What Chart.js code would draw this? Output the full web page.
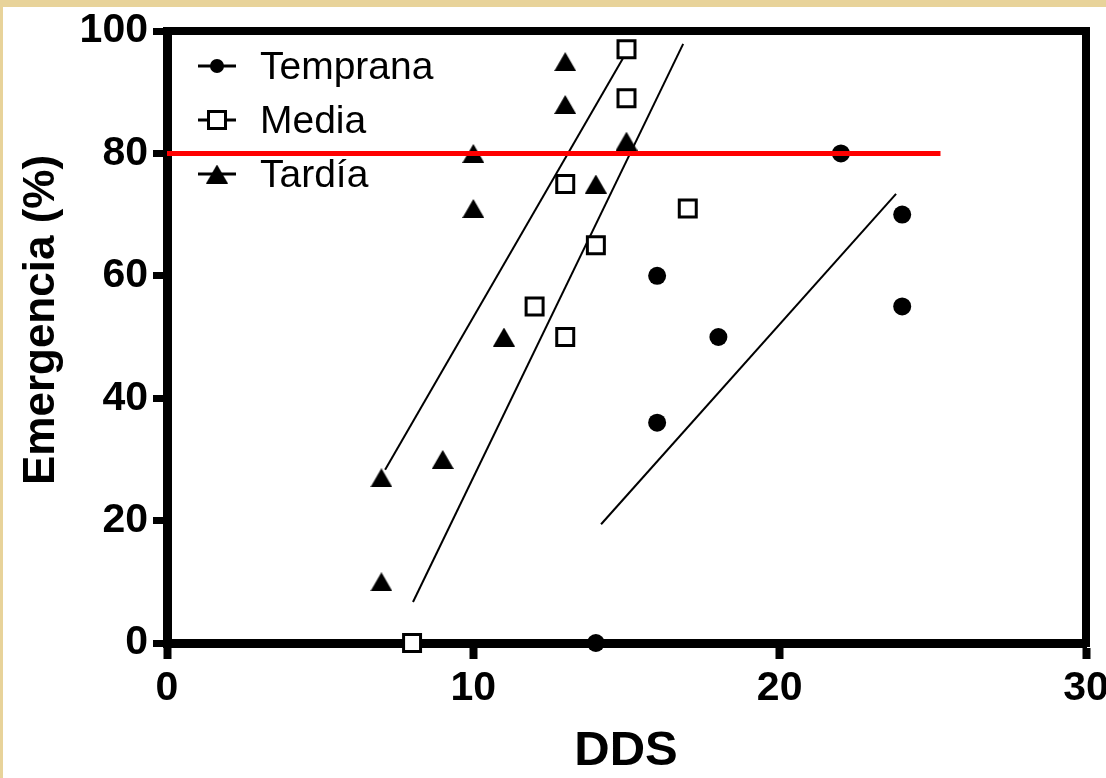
<!DOCTYPE html>
<html>
<head>
<meta charset="utf-8">
<title>Emergencia vs DDS</title>
<script src="https://cdn.jsdelivr.net/npm/chart.js@4.4.1/dist/chart.umd.min.js"></script>
<style>
  html, body { margin: 0; padding: 0; overflow: hidden; background: #fff; }
  canvas { display: block; }
</style>
</head>
<body>
<canvas id="grafico" width="1106" height="778"></canvas>
<script>
// observaciones por época de siembra
const ddsTemprana = [14, 16, 16, 18, 22, 24, 24];
const emTemprana  = [0, 60, 36, 50, 80, 70, 55];

const ddsMedia = [8, 12, 13, 13, 14, 15, 15, 17];
const emMedia  = [0, 55, 50, 75, 65, 97, 89, 71];

const ddsTardia = [7, 7, 9, 10, 10, 11, 13, 13, 14, 15];
const emTardia  = [27, 10, 30, 80, 71, 50, 95, 88, 75, 82];

// rectas de regresión (extremos)
const rectaTempranaX = [14.17, 23.8];
const rectaTempranaY = [19.4, 73.4];
const rectaMediaX = [8.03, 16.85];
const rectaMediaY = [6.7, 97.9];
const rectaTardiaX = [7.12, 14.89];
const rectaTardiaY = [28.3, 95.6];

// umbral del 80 %
const umbralX = [0, 25.25];
const umbralY = [80, 80];

const xTicks = [0, 10, 20, 30];
const yTicks = [0, 20, 40, 60, 80, 100];

const etiquetas = ['Temprana', 'Media', 'Tardía'];

function puntos(xs, ys) {
    return xs.map((x, i) => ({ x: x, y: ys[i] }));
}

const FUENTE = "'Liberation Sans', Arial, sans-serif";

// triángulo centrado en su caja (el de Chart.js queda desplazado hacia arriba)
function hacerTriangulo(w, h) {
    const cv = document.createElement('canvas');
    cv.width = w;
    cv.height = h;
    const c = cv.getContext('2d');
    c.fillStyle = '#000';
    c.beginPath();
    c.moveTo(w / 2, 0);
    c.lineTo(w, h);
    c.lineTo(0, h);
    c.closePath();
    c.fill();
    return cv;
}
const triangulo = hacerTriangulo(22, 19);

const fondo = {
    id: 'fondo',
    beforeDraw(chart) {
        const c = chart.ctx;
        c.save();
        c.fillStyle = '#e8d39a';
        c.fillRect(0, 0, chart.width, chart.height);
        c.fillStyle = '#ffffff';
        c.fillRect(3, 7, chart.width - 3, chart.height - 7);
        c.restore();
    }
};

const marco = {
    id: 'marco',
    beforeDatasetsDraw(chart) {
        const a = chart.chartArea;
        const c = chart.ctx;
        c.save();
        c.strokeStyle = '#000';
        c.lineWidth = 8;
        c.lineJoin = 'miter';
        c.strokeRect(a.left, a.top, a.right - a.left, a.bottom - a.top);
        c.restore();
    }
};

const titulos = {
    id: 'titulos',
    afterDraw(chart) {
        const c = chart.ctx;
        c.save();
        c.fillStyle = '#000';
        c.textAlign = 'center';
        c.textBaseline = 'middle';
        c.font = 'bold 49px ' + FUENTE;
        c.fillText('DDS', 626, 751);
        c.translate(42, 320);
        c.rotate(-Math.PI / 2);
        c.font = 'bold 44px ' + FUENTE;
        c.fillText('Emergencia (%)', 0, 0);
        c.restore();
    }
};

function marcador(c, estilo, x, y) {
    c.beginPath();
    if (estilo === 'circle') {
        c.arc(x, y, 7, 0, Math.PI * 2);
        c.fillStyle = '#000';
        c.fill();
    } else if (estilo === 'rect') {
        c.rect(x - 8.5, y - 8.5, 17, 17);
        c.fillStyle = '#fff';
        c.fill();
        c.lineWidth = 3;
        c.strokeStyle = '#000';
        c.stroke();
    } else {
        c.drawImage(estilo, x - estilo.width / 2, y - estilo.height / 2);
    }
}

const leyenda = {
    id: 'leyenda',
    afterDatasetsDraw(chart) {
        const c = chart.ctx;
        const filas = [66, 120, 174];
        c.save();
        chart.data.datasets.slice(0, 3).forEach((ds, i) => {
            const y = filas[i];
            c.beginPath();
            c.moveTo(198, y);
            c.lineTo(236, y);
            c.lineWidth = 3;
            c.strokeStyle = '#000';
            c.stroke();
            marcador(c, ds.pointStyle, 217, y);
            c.fillStyle = '#000';
            c.font = '39px ' + FUENTE;
            c.textAlign = 'left';
            c.textBaseline = 'alphabetic';
            c.fillText(ds.label, 260, y + 13);
        });
        c.restore();
    }
};

const recta = (xs, ys) => ({
    type: 'line',
    data: puntos(xs, ys),
    borderColor: '#000',
    borderWidth: 2,
    pointRadius: 0,
    showLine: true,
    fill: false,
    order: 3
});

new Chart(document.getElementById('grafico'), {
    type: 'scatter',
    data: {
        datasets: [
            {
                label: etiquetas[0],
                data: puntos(ddsTemprana, emTemprana),
                pointStyle: 'circle',
                pointRadius: 9,
                backgroundColor: '#000',
                borderWidth: 0,
                clip: false,
                order: 2
            },
            {
                label: etiquetas[1],
                data: puntos(ddsMedia, emMedia),
                pointStyle: 'rect',
                pointRadius: 12,
                backgroundColor: '#fff',
                borderColor: '#000',
                borderWidth: 3,
                clip: false,
                order: 2
            },
            {
                label: etiquetas[2],
                data: puntos(ddsTardia, emTardia),
                pointStyle: triangulo,
                pointRadius: 11,
                backgroundColor: '#000',
                borderWidth: 0,
                clip: false,
                order: 2
            },
            recta(rectaTempranaX, rectaTempranaY),
            recta(rectaMediaX, rectaMediaY),
            recta(rectaTardiaX, rectaTardiaY),
            {
                type: 'line',
                data: puntos(umbralX, umbralY),
                borderColor: '#ff0000',
                borderWidth: 5,
                pointRadius: 0,
                showLine: true,
                fill: false,
                order: 0
            }
        ]
    },
    options: {
        responsive: false,
        animation: false,
        events: [],
        layout: { padding: { top: 31, right: 20, left: 0, bottom: 0 } },
        plugins: {
            legend: { display: false },
            tooltip: { enabled: false }
        },
        scales: {
            x: {
                type: 'linear',
                min: 0,
                max: 30,
                afterBuildTicks(scale) { scale.ticks = xTicks.map(v => ({ value: v })); },
                afterFit(scale) {
                    scale.height = 135;
                    scale.paddingLeft = 0;
                    scale.paddingRight = 0;
                },
                border: { display: true, color: '#000', width: 9 },
                grid: {
                    drawOnChartArea: false,
                    drawTicks: true,
                    tickLength: 16,
                    tickWidth: 8,
                    tickColor: '#000'
                },
                ticks: {
                    color: '#000',
                    padding: 5,
                    font: { family: FUENTE, size: 41, weight: 'bold' }
                }
            },
            y: {
                type: 'linear',
                min: 0,
                max: 100,
                afterBuildTicks(scale) { scale.ticks = yTicks.map(v => ({ value: v })); },
                afterFit(scale) {
                    scale.width = 167;
                    scale.paddingTop = 0;
                    scale.paddingBottom = 0;
                },
                border: { display: true, color: '#000', width: 9 },
                grid: {
                    drawOnChartArea: false,
                    drawTicks: true,
                    tickLength: 14,
                    tickWidth: 7,
                    tickColor: '#000'
                },
                ticks: {
                    color: '#000',
                    padding: 5,
                    font: { family: FUENTE, size: 41, weight: 'bold' }
                }
            }
        }
    },
    plugins: [fondo, marco, leyenda, titulos]
});
</script>
</body>
</html>
